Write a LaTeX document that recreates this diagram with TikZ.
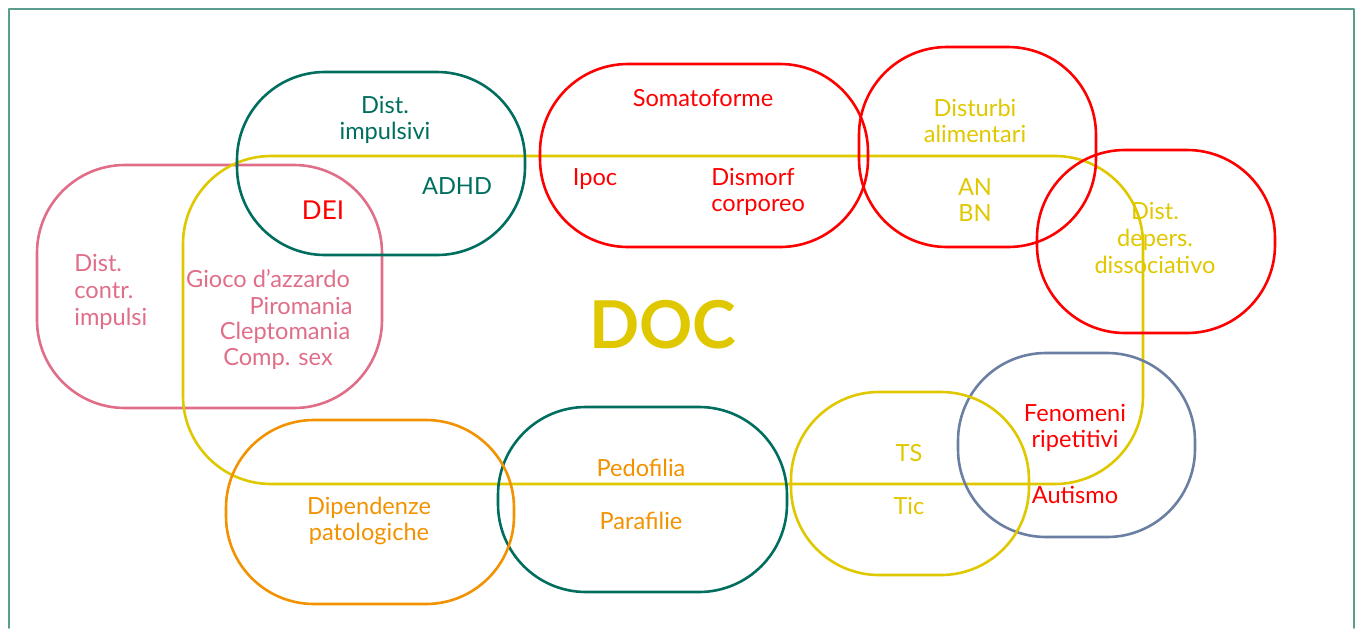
\documentclass[tikz,border=0pt]{standalone}
\usepackage{fontspec}
\setmainfont{Lato}
\usetikzlibrary{positioning}
\definecolor{docyellow}{RGB}{224,200,0}
\definecolor{docpink}{RGB}{224,110,136}
\definecolor{docteal}{RGB}{0,110,95}
\definecolor{docred}{RGB}{255,0,0}
\definecolor{docorange}{RGB}{242,146,0}
\definecolor{docblue}{RGB}{107,127,163}
\definecolor{docframe}{RGB}{90,158,144}
\tikzset{
  blob/.style={line width=1.3pt, rounded corners=44pt},
  lbl/.style={align=center, inner sep=0pt, font=\fontsize{11.8}{13.3}\selectfont},
}

\begin{document}
\begin{tikzpicture}[line cap=round,line join=round,x=0.5pt,y=-0.5pt]
\useasboundingbox (0,0) rectangle (1357,628);
% frame
\draw [docframe, line width=0.8pt] (9,628) -- (9,9) -- (1354,9) -- (1354,628);
% groups
\draw [blob, docpink]   (37,165)  rectangle (382,408);
\draw [blob, docyellow] (183,156) rectangle (1143,484);
\draw [blob, docteal]   (237,72)  rectangle (525,255);
\draw [blob, docred]    (540,64)  rectangle (868,247);
\draw [blob, docred]    (859,47)  rectangle (1096,247);
\draw [blob, docred]    (1037,150) rectangle (1275,333);
\draw [blob, docblue]   (958,353) rectangle (1195,537);
\draw [blob, docyellow] (791,392) rectangle (1029,575);
\draw [blob, docteal]   (498,407) rectangle (787,592);
\draw [blob, docorange] (226,420) rectangle (514,604);
% labels
\node [lbl, docteal] (impuls) at (385,120) {Dist.\\impulsivi};
\node [lbl, docteal] (adhd) at (457,186) {ADHD};
\node [lbl, docred, font=\fontsize{13}{15}\selectfont] (dei) at (323,210) {DEI};
\node [lbl, docpink, anchor=west, align=left] (contr) at (74,292) {Dist.\\contr.\\impulsi};
\node [lbl, docpink] (gioco) at (268,279) {Gioco d’azzardo};
\node [lbl, docpink] (piro) at (301,306) {Piromania};
\node [lbl, docpink] (clepto) at (285,333) {Cleptomania};
\node [lbl, docpink] (sex) at (278,359) {Comp. sex};
\node [lbl, docred] (somato) at (703,98) {Somatoforme};
\node [lbl, docred] (ipoc) at (595,179) {Ipoc};
\node [lbl, docred, anchor=west, align=left] (dismorf) at (711,192) {Dismorf\\corporeo};
\node [lbl, docyellow] (alim) at (975,121) {Disturbi\\alimentari};
\node [lbl, docyellow] (anbn) at (975,200) {AN\\BN};
\node [lbl, docyellow] (depers) at (1155,238) {Dist.\\depers.\\dissociativo};
\node [lbl, docyellow, font=\fontsize{33}{36}\bfseries] (doc) at (663,325) {DOC};
\node [lbl, docred] (ripet) at (1075,428) {Fenomeni\\ripetitivi};
\node [lbl, docred] (autismo) at (1075,495) {Autismo};
\node [lbl, docyellow] (ts) at (909,453) {TS};
\node [lbl, docyellow] (tic) at (909,506) {Tic};
\node [lbl, docorange] (pedo) at (641,468) {Pedofilia};
\node [lbl, docorange] (para) at (641,521) {Parafilie};
\node [lbl, docorange] (dip) at (369,521) {Dipendenze\\patologiche};
\end{tikzpicture}
\end{document}
